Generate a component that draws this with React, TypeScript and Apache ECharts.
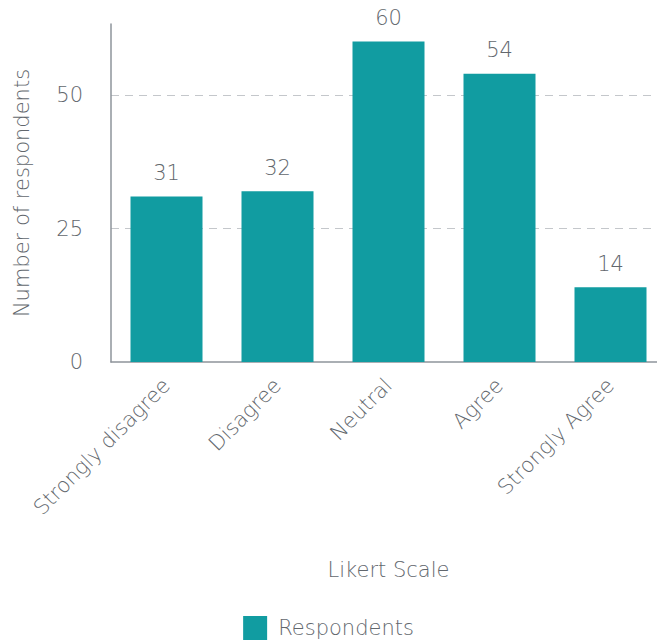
import React, { useEffect, useRef } from "react";
import * as echarts from "echarts";

const categories = ["Strongly disagree", "Disagree", "Neutral", "Agree", "Strongly Agree"];
const respondents = [31, 32, 60, 54, 14];
const gridValues = [25, 50];
const seriesName = "Respondents";
const xAxisTitle = "Likert Scale";
const yAxisTitle = "Number of respondents";

const FONT = "DejaVu Sans";
const FS = 21;
const TEXT = "#62676d";
const BAR = "#119ca1";

export default function App() {
  const ref = useRef<HTMLDivElement>(null);
  useEffect(() => {
    if (!ref.current) return;
    const chart = echarts.init(ref.current, undefined, { renderer: "svg" });
    chart.setOption({
      animation: false,
      textStyle: { fontFamily: FONT },
      grid: {
        left: 111,
        right: -9,
        top: 24,
        bottom: 282,
        containLabel: false,
        outerBoundsMode: "none",
      },
      legend: {
        data: [seriesName],
        left: "center",
        bottom: -1,
        itemWidth: 24,
        itemHeight: 24,
        icon: "rect",
        textStyle: { fontFamily: FONT, fontSize: FS, fontWeight: 300, color: TEXT, padding: [0, 0, 0, 6] },
      },
      xAxis: {
        type: "category",
        data: categories,
        name: xAxisTitle,
        nameLocation: "middle",
        nameGap: 197,
        nameTextStyle: { fontFamily: FONT, fontSize: FS, fontWeight: 300, color: TEXT },
        axisLine: { lineStyle: { color: "#8e949b", width: 1.5 } },
        axisTick: { show: false },
        axisLabel: { rotate: 45, margin: 20, fontFamily: FONT, fontSize: FS, fontWeight: 300, color: TEXT, interval: 0 },
      },
      yAxis: {
        type: "value",
        min: 0,
        max: 63.3,
        interval: 25,
        name: yAxisTitle,
        nameLocation: "middle",
        nameGap: 79,
        nameTextStyle: { fontFamily: FONT, fontSize: FS, fontWeight: 300, color: TEXT },
        axisLine: { show: true, lineStyle: { color: "#8e949b", width: 1.5 } },
        axisTick: { show: false },
        splitLine: { show: false },
        axisLabel: {
          margin: 28,
          fontFamily: FONT,
          fontSize: FS,
          fontWeight: 300,
          color: TEXT,
          showMaxLabel: false,
          formatter: (v: number) => (v % 25 === 0 ? String(v) : ""),
        },
      },
      series: [
        {
          name: seriesName,
          type: "bar",
          data: respondents,
          barWidth: 72,
          itemStyle: { color: BAR },
          label: {
            show: true,
            position: "top",
            distance: 13,
            fontFamily: FONT,
            fontSize: FS,
            fontWeight: 300,
            color: TEXT,
          },
          markLine: {
            silent: true,
            symbol: "none",
            label: { show: false },
            lineStyle: { color: "#c4c7cb", type: [8, 6], width: 1.2 },
            data: gridValues.map((v) => ({ yAxis: v })),
            z: 0,
          },
          z: 2,
        },
      ],
    });
    return () => chart.dispose();
  }, []);
  return (
    <div
      ref={ref}
      style={{ position: "fixed", left: 0, top: 0, width: 657, height: 644, background: "#fff" }}
    />
  );
}
